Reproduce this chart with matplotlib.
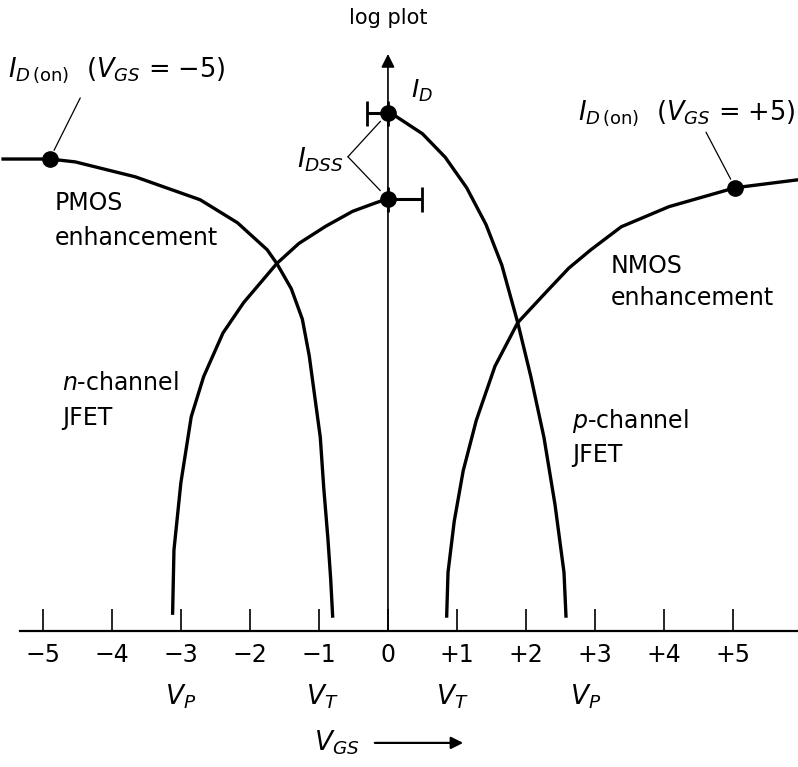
import matplotlib.pyplot as plt

plt.rcParams['font.family'] = ['DejaVu Sans']
plt.rcParams['mathtext.fontset'] = 'dejavusans'

# V_GS ticks on the horizontal axis
tick_values = [-5, -4, -3, -2, -1, 0, 1, 2, 3, 4, 5]
tick_labels = ['−5', '−4', '−3', '−2', '−1', '0', '+1', '+2', '+3', '+4', '+5']

# curves: V_GS (volts) vs log I_D (arbitrary units)
pmos_v = [-5.6, -4.9, -4.53, -3.66, -2.72, -2.18, -1.75, -1.61, -1.40, -1.24, -1.14,
          -1.06, -0.98, -0.93, -0.87, -0.83, -0.80]
pmos_logi = [8.22, 8.22, 8.17, 7.91, 7.51, 7.11, 6.64, 6.40, 5.96, 5.43, 4.79,
             4.08, 3.37, 2.49, 1.61, 0.91, 0.23]

njfet_v = [-3.12, -3.1, -3.0, -2.85, -2.67, -2.39, -2.09, -1.61, -1.29, -0.90, -0.51, -0.17, 0.0]
njfet_logi = [0.28, 1.41, 2.58, 3.73, 4.43, 5.19, 5.72, 6.40, 6.75, 7.05, 7.31, 7.46, 7.53]

pjfet_v = [0.0, 0.12, 0.50, 0.83, 1.14, 1.42, 1.65, 1.88, 2.07, 2.26, 2.42, 2.55, 2.58]
pjfet_logi = [9.02, 8.96, 8.66, 8.25, 7.72, 7.08, 6.37, 5.37, 4.43, 3.37, 2.20, 1.02, 0.23]

nmos_v = [0.85, 0.87, 0.96, 1.09, 1.28, 1.55, 1.88, 2.29, 2.62, 2.94, 3.38, 4.07, 5.03, 5.95]
nmos_logi = [0.23, 1.02, 1.91, 2.79, 3.67, 4.61, 5.37, 5.90, 6.32, 6.64, 7.04, 7.39, 7.72, 7.86]

# marked points
idon_neg = (-4.9, 8.22)
idon_pos = (5.03, 7.72)
idss_n = (0.0, 7.53)
idss_p = (0.0, 9.02)
idss_n_spread = 0.49
idss_p_spread = 0.30

fig = plt.figure(figsize=(7.98, 7.67), dpi=100)
ax = fig.add_axes([0, 0, 1, 1])
ax.set_xlim(-5.62, 5.94)
ax.set_ylim(-2.37, 10.99)

# curves
for v, li in [(pmos_v, pmos_logi), (njfet_v, njfet_logi), (pjfet_v, pjfet_logi), (nmos_v, nmos_logi)]:
    ax.plot(v, li, color='black', lw=2.4, solid_capstyle='butt', solid_joinstyle='round')

# I_DSS points with spread bars
ax.errorbar([idss_n[0]], [idss_n[1]], xerr=[[0], [idss_n_spread]], fmt='o', color='black',
            ms=11, lw=2.2, capsize=9, capthick=2, zorder=5)
ax.errorbar([idss_p[0]], [idss_p[1]], xerr=[[idss_p_spread], [0]], fmt='o', color='black',
            ms=11, lw=2.2, capsize=9, capthick=2, zorder=5)
ax.plot([idon_neg[0], idon_pos[0]], [idon_neg[1], idon_pos[1]], 'o', color='black', ms=11, zorder=5)

# axes
for s in ['top', 'right', 'left']:
    ax.spines[s].set_visible(False)
ax.spines['bottom'].set_position(('data', 0))
ax.spines['bottom'].set_bounds(-5.33, 5.94)
ax.spines['bottom'].set_linewidth(1.6)
ax.set_yticks([])
ax.set_xticks(tick_values, tick_labels)
ax.tick_params(axis='x', direction='in', length=16, width=1.2, pad=9, labelsize=17)

# vertical I_D axis with arrow
ax.annotate('', xy=(0, 10.05), xytext=(0, 0),
            arrowprops=dict(arrowstyle='-|>', lw=1.2, color='black', mutation_scale=20, shrinkA=0, shrinkB=0))
ax.text(0, 10.68, 'log plot', ha='center', va='center', fontsize=15)
ax.text(0.33, 9.4, r'$I_D$', ha='left', va='center', fontsize=18)

# I_D(on) labels
ax.text(-5.51, 9.77, r'$I_{D\,(\mathrm{on})}$  ($V_{GS}$ = −5)', ha='left', va='center', fontsize=18.5)
ax.annotate('', xy=idon_neg, xytext=(22, 44), textcoords='offset points',
            arrowprops=dict(arrowstyle='-', lw=0.9, color='black', shrinkA=0, shrinkB=7))
ax.text(5.90, 9.02, r'$I_{D\,(\mathrm{on})}$  ($V_{GS}$ = +5)', ha='right', va='center', fontsize=18.5)
ax.annotate('', xy=idon_pos, xytext=(-21, 40), textcoords='offset points',
            arrowprops=dict(arrowstyle='-', lw=0.9, color='black', shrinkA=0, shrinkB=7))

# I_DSS bracket
ax.text(-0.64, 8.21, r'$I_{DSS}$', ha='right', va='center', fontsize=19)
for pt in [idss_p, idss_n]:
    ax.annotate('', xy=pt, xytext=(-0.58, 8.26),
                arrowprops=dict(arrowstyle='-', lw=0.9, color='black', shrinkA=0, shrinkB=8))

# curve names
ax.text(-4.83, 7.33, 'PMOS', ha='left', va='baseline', fontsize=17)
ax.text(-4.83, 6.72, 'enhancement', ha='left', va='baseline', fontsize=17)
ax.text(-4.72, 4.20, r'$n$-channel', ha='left', va='baseline', fontsize=17)
ax.text(-4.72, 3.59, 'JFET', ha='left', va='baseline', fontsize=17)
ax.text(3.23, 6.24, 'NMOS', ha='left', va='baseline', fontsize=17)
ax.text(3.23, 5.68, 'enhancement', ha='left', va='baseline', fontsize=17)
ax.text(2.67, 3.54, r'$p$-channel', ha='left', va='baseline', fontsize=17)
ax.text(2.67, 2.94, 'JFET', ha='left', va='baseline', fontsize=17)

# pinch-off and threshold labels
ax.text(-3.01, -1.15, r'$V_P$', ha='center', va='center', fontsize=19)
ax.text(-0.95, -1.15, r'$V_T$', ha='center', va='center', fontsize=19)
ax.text(0.93, -1.15, r'$V_T$', ha='center', va='center', fontsize=19)
ax.text(2.86, -1.15, r'$V_P$', ha='center', va='center', fontsize=19)

# V_GS label with arrow
ax.text(-0.74, -1.95, r'$V_{GS}$', ha='center', va='center', fontsize=19)
ax.annotate('', xy=(1.09, -1.95), xytext=(-0.19, -1.95),
            arrowprops=dict(arrowstyle='-|>', lw=1.6, color='black', mutation_scale=18, shrinkA=0, shrinkB=0))

fig.savefig('out.png', dpi=100)
